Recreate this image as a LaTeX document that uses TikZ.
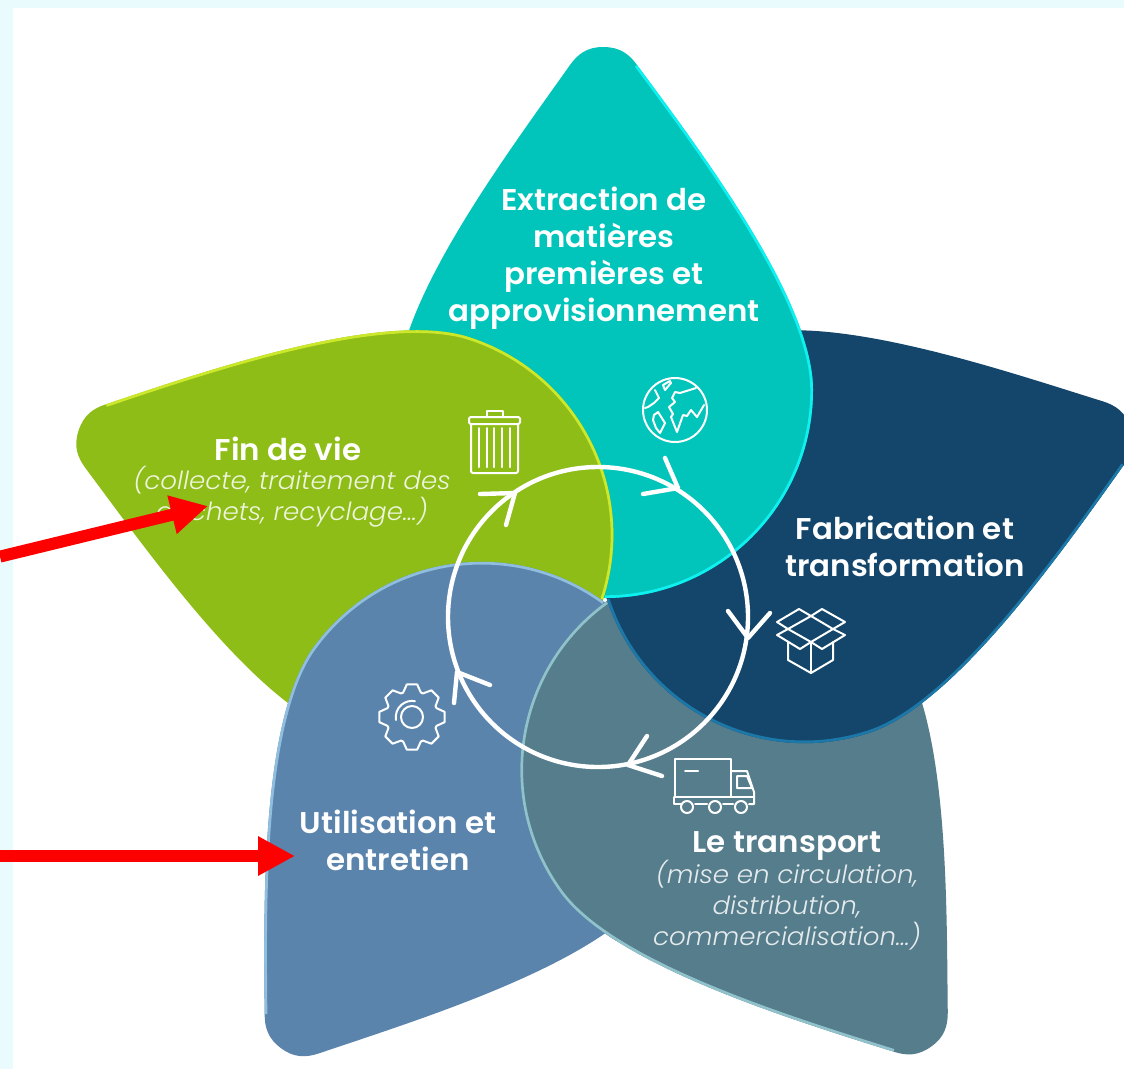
\documentclass[tikz,border=0pt]{standalone}
\usepackage{fontspec}
\usetikzlibrary{arrows.meta}
\setmainfont{Poppins}
\newfontfamily\headfont[FakeStretch=1.03]{Poppins SemiBold}
\newfontfamily\subfont[FakeStretch=1.045]{Poppins Light Italic}
\definecolor{bgpale}{HTML}{E9FBFD}
\definecolor{tealfill}{HTML}{01C5BA}
\definecolor{tealedge}{HTML}{0FF0F0}
\definecolor{navyfill}{HTML}{13466A}
\definecolor{navyedge}{HTML}{1C78A8}
\definecolor{greenfill}{HTML}{8EBD17}
\definecolor{greenedge}{HTML}{CDE82A}
\definecolor{bluefill}{HTML}{5B84AD}
\definecolor{blueedge}{HTML}{8FBEDE}
\definecolor{grayfill}{HTML}{567D8C}
\definecolor{grayedge}{HTML}{8FC2CA}
\newcommand{\petalfull}{(603,47) .. controls (620,47) and (629,54) .. (637,65) .. controls (700,150) and (813,300) .. (813,390) .. controls (813,505) and (720,598) .. (605,598) .. controls (490,598) and (397,505) .. (397,390) .. controls (397,300) and (510,150) .. (570,65) .. controls (578,54) and (587,47) .. (603,47) -- cycle}
\newcommand{\petaledge}{(637,65) .. controls (700,150) and (813,300) .. (813,390) .. controls (813,505) and (720,598) .. (605,598)}
\newcommand{\petal}[3]{\begin{scope}[rotate around={#1:(605,600)}]
\fill[#2] \petalfull;
\begin{scope}
\clip \petalfull;
\draw[#3,line width=5.4pt] \petaledge;
\end{scope}
\end{scope}}
\tikzset{
  headtext/.style={text=white,align=center,inner sep=0pt,font=\headfont\fontsize{30}{37}\selectfont},
  subtext/.style={text=white,text opacity=.85,align=center,inner sep=0pt,font=\subfont\fontsize{25}{31}\selectfont},
  icon/.style={draw=white,line width=2pt,line join=round,line cap=round},
  loopline/.style={draw=white,line width=4.4pt,line cap=round,line join=round},
  redarrow/.style={draw=red,line width=12pt,-{Triangle[length=37pt,width=37pt]}}
}
\begin{document}
\begin{tikzpicture}[x=1pt,y=-1pt]
\useasboundingbox (0,0) rectangle (1124,1069);
\fill[bgpale] (0,0) rectangle (1124,1069);
\fill[white] (13,8) rectangle (1124,1069);
\begin{scope}
\clip (0,0) rectangle (1124,1069);
\petal{-144}{grayfill}{grayedge}
\petal{-72}{navyfill}{navyedge}
\petal{0}{tealfill}{tealedge}
\petal{72}{greenfill}{greenedge}
% blue, then grey over it, only on the side away from navy
\begin{scope}
\clip (200,555) -- (608,555) -- (608,640) -- (616,640) -- (616,1069) -- (200,1069) -- cycle;
\petal{144}{bluefill}{blueedge}
\petal{-144}{grayfill}{grayedge}
\end{scope}
\end{scope}

% cycle
\draw[loopline] (598,617) circle (150);
\draw[loopline] (665,458) -- (678,488) -- (643,494);
\draw[loopline] (728,611) -- (748,638) -- (770,613);
\draw[loopline] (647,736) -- (628,765) -- (662,776);
\draw[loopline] (454,703) -- (457,672) -- (490,685);
\draw[loopline] (480,494) -- (515,493) -- (506,525);

% trash
\draw[icon] (487,417) -- (487,411) -- (503,411) -- (503,417);
\draw[icon,rounded corners=1.5pt] (469,417) rectangle (520,424);
\draw[icon,rounded corners=2pt] (471,424) -- (471,473) -- (518,473) -- (518,424);
\foreach \x in {479,487,494,502,510} \draw[icon] (\x,428) -- (\x,467);

% globe
\draw[icon] (675,410) circle (32);
\draw[icon] (663,385) -- (670,381) -- (671,383) -- (665,390) -- cycle;
\draw[icon] (655,390) -- (659,398) -- (654,403) -- (648,407) -- (645,408);
\draw[icon] (654,415) -- (658,412) -- (665,423) -- (660,433) -- (656,428) -- (653,420) -- cycle;
\draw[icon] (696,388) -- (680,393) -- (675,392) -- (672,398) -- (675,402) -- (669,407) -- (673,414) -- (671,417) -- (677,432) -- (683,415) -- (687,416) -- (691,410) -- (697,417) -- (704,405);

% box
\draw[icon] (799,609) -- (811,616) -- (788,629) -- (777,622) -- cycle;
\draw[icon] (822,609) -- (811,616) -- (833,629) -- (845,622) -- cycle;
\draw[icon] (788,629) -- (777,635) -- (800,649) -- (811,642) -- cycle;
\draw[icon] (833,629) -- (845,635) -- (822,649) -- (811,642) -- cycle;
\draw[icon] (788,642) -- (788,660) -- (811,673) -- (833,660) -- (833,642);
\draw[icon] (811,642) -- (811,673);

% truck
\draw[icon] (675,797) rectangle (731,759);
\draw[icon] (685,771) -- (698,771);
\draw[icon] (731,771) -- (747,771) -- (754,792) -- (754,804) -- (749,804);
\draw[icon] (737,776) -- (747,776) -- (752,788) -- (737,788) -- cycle;
\draw[icon] (674,797) -- (674,804) -- (681,804);
\draw[icon] (695,804) -- (707,804);
\draw[icon] (723,804) -- (733,804);
\draw[icon] (731,797) -- (754,797);
\foreach \x in {687,715,741} \draw[icon] (\x,807) circle (6);

% gear
\begin{scope}[shift={(412,717)}]
\draw[icon] ({0-20}:26) \foreach \a in {0,45,...,315}{ -- ({\a-20}:26) -- ({\a-9}:33) -- ({\a+9}:33) -- ({\a+20}:26)} -- cycle;
\draw[icon] (0,0) circle (11);
\draw[icon] (-16,3) arc[start angle=170,end angle=280,radius=16.3];
\end{scope}

% labels
\node[headtext] (extraction) at (604,258) {Extraction de\\matières\\premières et\\approvisionnement};
\node[headtext] (fabrication) at (905,546) {Fabrication et\\transformation};
\node[headtext] (findevie) at (288,449) {Fin de vie};
\node[subtext] (findeviesub) at (292,497) {(collecte, traitement des\\déchets, recyclage…)};
\node[headtext] (utilisation) at (398,840) {Utilisation et\\entretien};
\node[headtext] (transport) at (787,846) {Le transport};
\node[subtext] (transportsub) at (787,905) {(mise en circulation,\\distribution,\\commercialisation…)};

% red arrows
\coordinate (arrowAstart) at (0,556.6);
\coordinate (arrowAend) at (208,506);
\coordinate (arrowBstart) at (0,856);
\coordinate (arrowBend) at (295,856);
\draw[redarrow] (arrowAstart) -- (arrowAend);
\draw[redarrow] (arrowBstart) -- (arrowBend);
\end{tikzpicture}
\end{document}
